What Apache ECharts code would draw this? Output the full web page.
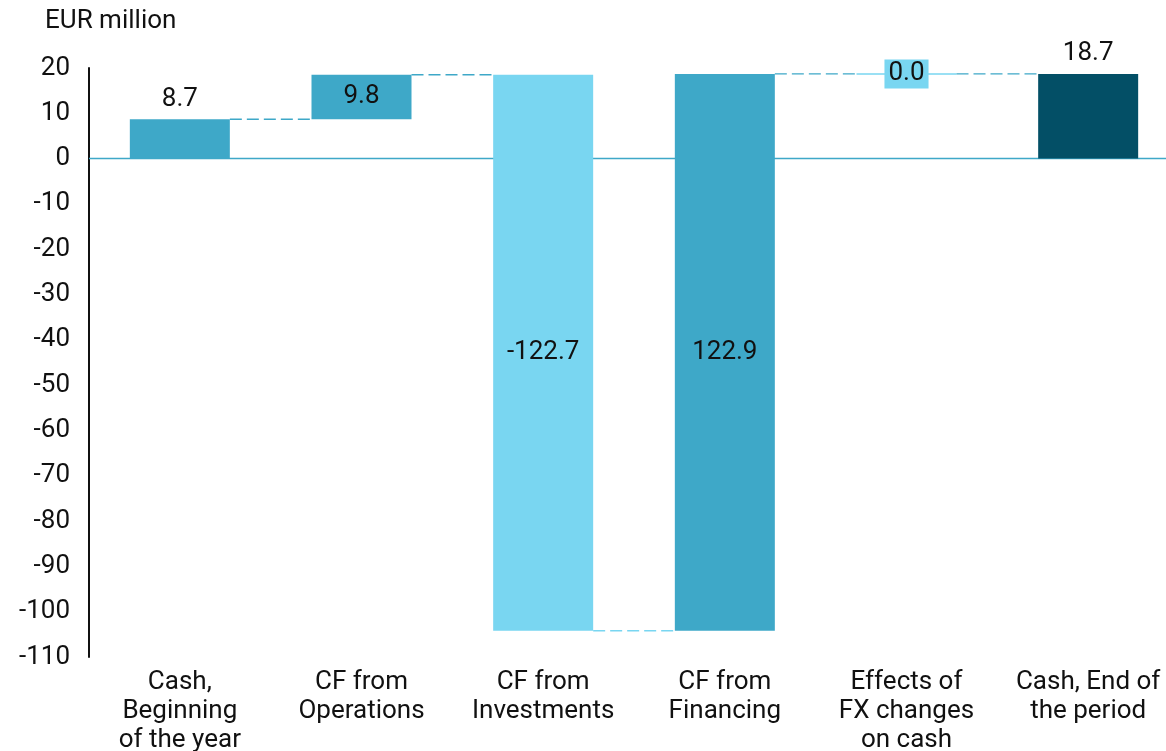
<!DOCTYPE html>
<html>
<head>
<meta charset="utf-8">
<script src="https://cdn.jsdelivr.net/npm/echarts@6/dist/echarts.min.js"></script>
<style>
  html, body { margin: 0; padding: 0; background: #ffffff; }
  #chart { width: 1166px; height: 751px; }
</style>
</head>
<body>
<div id="chart"></div>
<script>
// Cash flow bridge, EUR million
const categories = [
  'Cash,\nBeginning\nof the year',
  'CF from\nOperations',
  'CF from\nInvestments',
  'CF from\nFinancing',
  'Effects of\nFX changes\non cash',
  'Cash, End of\nthe period'
];
const openingCash = 8.7;
const cashFlows = [9.8, -122.7, 122.9, 0.0];
const closingCash = 18.7;

const yMin = -110;
const yMax = 20;
const yStep = 10;

// Colours for each column and for the dashed connector leaving it
const BLUE = '#3EA8C8';
const LIGHT = '#79D6F1';
const DARK = '#034F66';
const barColors = [BLUE, BLUE, LIGHT, BLUE, LIGHT, DARK];
const connectorColors = [BLUE, BLUE, LIGHT, BLUE, BLUE];

// rows: [index, start level, end level, shown value, kind]
const rows = [];
rows.push([0, 0, openingCash, openingCash, 'total']);
let running = openingCash;
cashFlows.forEach(function (f, k) {
  rows.push([k + 1, running, running + f, f, 'flow']);
  running += f;
});
rows.push([categories.length - 1, 0, closingCash, closingCash, 'total']);

const FONT = 'Roboto, "Noto Sans", sans-serif';
const FS = 26;

function renderBars(params, api) {
  const i = api.value(0);
  const start = api.value(1);
  const end = api.value(2);
  const value = api.value(3);
  const kind = rows[params.dataIndex][4];
  const bw = 100;
  const cx = api.coord([i, 0])[0];
  const ps = api.coord([i, start])[1];
  const pe = api.coord([i, end])[1];
  const top = Math.min(ps, pe);
  const h = Math.abs(ps - pe);
  const color = barColors[i];
  const children = [];

  if (h >= 1) {
    children.push({
      type: 'rect',
      shape: { x: cx - bw / 2, y: top, width: bw, height: h },
      style: { fill: color }
    });
  } else {
    children.push({
      type: 'line',
      shape: { x1: cx - bw / 2, y1: pe, x2: cx + bw / 2, y2: pe },
      style: { stroke: color, lineWidth: 1.5 }
    });
  }

  if (i < categories.length - 1) {
    const nx = api.coord([i + 1, 0])[0];
    children.push({
      type: 'line',
      shape: { x1: cx + bw / 2, y1: pe, x2: nx - bw / 2, y2: pe },
      style: { stroke: connectorColors[i], lineWidth: 1.4, lineDash: [12, 5] }
    });
  }

  const label = value.toFixed(1);
  const textStyle = {
    text: label, x: cx, align: 'center',
    fill: '#111111', font: FS + 'px ' + FONT
  };
  if (kind === 'total') {
    textStyle.y = top - 7;
    textStyle.verticalAlign = 'bottom';
  } else {
    textStyle.y = top + h / 2;
    textStyle.verticalAlign = 'middle';
    if (h < 30) {
      textStyle.backgroundColor = color;
      textStyle.padding = [2, 4, 1, 4];
    }
  }
  children.push({ type: 'text', style: textStyle, z2: 10 });
  return { type: 'group', children: children };
}

// Baseline at zero across the whole plot width, beneath the columns
function renderZeroLine(params, api) {
  const cs = params.coordSys;
  const y = api.coord([0, 0])[1];
  return {
    type: 'line',
    shape: { x1: cs.x, y1: y, x2: cs.x + cs.width, y2: y },
    style: { stroke: BLUE, lineWidth: 1.5 }
  };
}

const chart = echarts.init(document.getElementById('chart'), null, { renderer: 'canvas' });
chart.setOption({
  animation: false,
  backgroundColor: '#ffffff',
  title: {
    text: 'EUR million',
    left: 40, top: 3,
    textStyle: { fontFamily: FONT, fontSize: FS, fontWeight: 'normal', color: '#111111' }
  },
  grid: {
    left: 89, top: 68, right: -13, bottom: 94,
    containLabel: false, outerBoundsMode: 'none'
  },
  xAxis: {
    type: 'category',
    data: categories,
    position: 'bottom',
    axisLine: { show: false },
    axisTick: { show: false },
    axisLabel: {
      interval: 0, margin: 11,
      fontFamily: FONT, fontSize: FS, lineHeight: 29, color: '#111111', align: 'center'
    },
    splitLine: { show: false }
  },
  yAxis: {
    type: 'value',
    min: yMin, max: yMax, interval: yStep,
    axisLine: { show: true, onZero: false, lineStyle: { color: '#111111', width: 2 } },
    axisTick: { show: false },
    splitLine: { show: false },
    axisLabel: { margin: 19, fontFamily: FONT, fontSize: FS, color: '#111111' }
  },
  series: [
    {
      type: 'custom',
      renderItem: renderZeroLine,
      data: [[0, 0]],
      encode: { x: 0, y: 1 },
      silent: true,
      clip: false,
      z: 1
    },
    {
      type: 'custom',
      renderItem: renderBars,
      encode: { x: 0, y: [1, 2] },
      data: rows.map(function (r) { return r.slice(0, 4); }),
      clip: false,
      z: 3
    }
  ]
});
</script>
</body>
</html>
